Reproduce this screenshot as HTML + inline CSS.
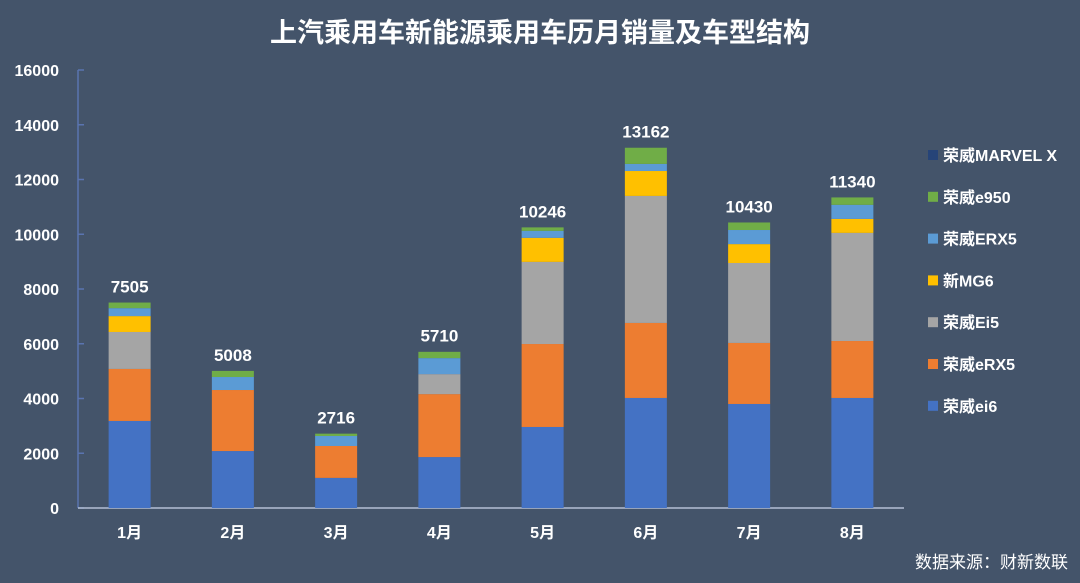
<!DOCTYPE html>
<html><head><meta charset="utf-8"><style>
body{margin:0;background:#44546a;}
svg{display:block;font-family:"Liberation Sans","Noto Sans CJK SC",sans-serif;}
</style></head><body>
<svg id="c" width="1080" height="583" viewBox="0 0 1080 583">
<rect width="1080" height="583" fill="#44546a"/>
<text x="540" y="42" text-anchor="middle" fill="#fff" font-size="27" font-weight="bold">上汽乘用车新能源乘用车历月销量及车型结构</text>
<g id="plot"></g>
<text x="1068" y="568" text-anchor="end" fill="#fff" font-size="17">数据来源：财新数联</text>
</svg>
<script>
const categories=["1月","2月","3月","4月","5月","6月","7月","8月"];
const seriesNames=["荣威ei6","荣威eRX5","荣威Ei5","新MG6","荣威ERX5","荣威e950","荣威MARVEL X"];
const ei6=[3180,2080,1100,1860,2960,4020,3800,4020];
const eRX5=[1900,2230,1165,2300,3030,2740,2230,2080];
const Ei5=[1350,0,0,730,3000,4640,2920,3950];
const MG6=[580,0,0,0,880,910,690,510];
const ERX5=[290,475,365,585,255,260,515,515];
const e950=[205,223,86,230,126,590,275,270];
const marvelX=[0,0,0,0,0,0,0,0];
const totals=[7505,5008,2716,5710,10246,13162,10430,11340];
const yTicks=[0,2000,4000,6000,8000,10000,12000,14000,16000];
const colors=["#4472c4","#ed7d31","#a5a5a5","#ffc000","#5b9bd5","#70ad47","#264478"];
const series=[ei6,eRX5,Ei5,MG6,ERX5,e950,marvelX];
const ns="http://www.w3.org/2000/svg";
const g=document.getElementById("plot");
const x0=78,x1=904,y0=508,yTop=70,yMax=16000;
const slot=(x1-x0)/categories.length,bw=42;
function y(v){return y0-(v/yMax)*(y0-yTop);}
function cx(i){return x0+slot*(i+0.5);}
function mk(t,a){const e=document.createElementNS(ns,t);for(const k in a)e.setAttribute(k,a[k]);g.appendChild(e);return e;}
let ax=mk("line",{x1:x0,y1:yTop,x2:x0,y2:y0,stroke:"#5a74b0","stroke-width":1.5});


yTicks.forEach(v=>{
 let t=mk("line",{x1:x0,x2:x0+6,y1:y(v),y2:y(v),stroke:"#5a74b0","stroke-width":1.5});
 
 
 let l=mk("text",{x:59,y:y(v)+6,"text-anchor":"end",fill:"#fff","font-size":16,"font-weight":"bold"});
 l.textContent=v;
 
 
});
let xa=mk("line",{x1:x0,y1:y0,x2:x1,y2:y0,stroke:"#b4bfd4","stroke-width":1.5});


categories.forEach((c,i)=>{
 let acc=0;
 series.forEach((s,k)=>{
  const v=s[i];if(!v)return;
  let r=mk("rect",{x:cx(i)-bw/2,y:y(acc+v),width:bw,height:y(acc)-y(acc+v),fill:colors[k]});
  
  
  acc+=v;
 });
 let tl=mk("text",{x:cx(i),y:y(totals[i])-10,"text-anchor":"middle",fill:"#fff","font-size":17,"font-weight":"bold"});
 tl.textContent=totals[i];
 
 
 let xl=mk("text",{x:cx(i),y:538,"text-anchor":"middle",fill:"#fff","font-size":16,"font-weight":"bold"});
 xl.textContent=c;
 
 
});
for(let k=seriesNames.length-1,j=0;k>=0;k--,j++){
 const ly=155+j*41.8;
 let sq=mk("rect",{x:928,y:ly-5,width:10,height:10,fill:colors[k]});
 
 
 let lt=mk("text",{x:943,y:ly+6,fill:"#fff","font-size":16,"font-weight":"bold"});
 lt.textContent=seriesNames[k];
 
 
}
</script>
</body></html>
